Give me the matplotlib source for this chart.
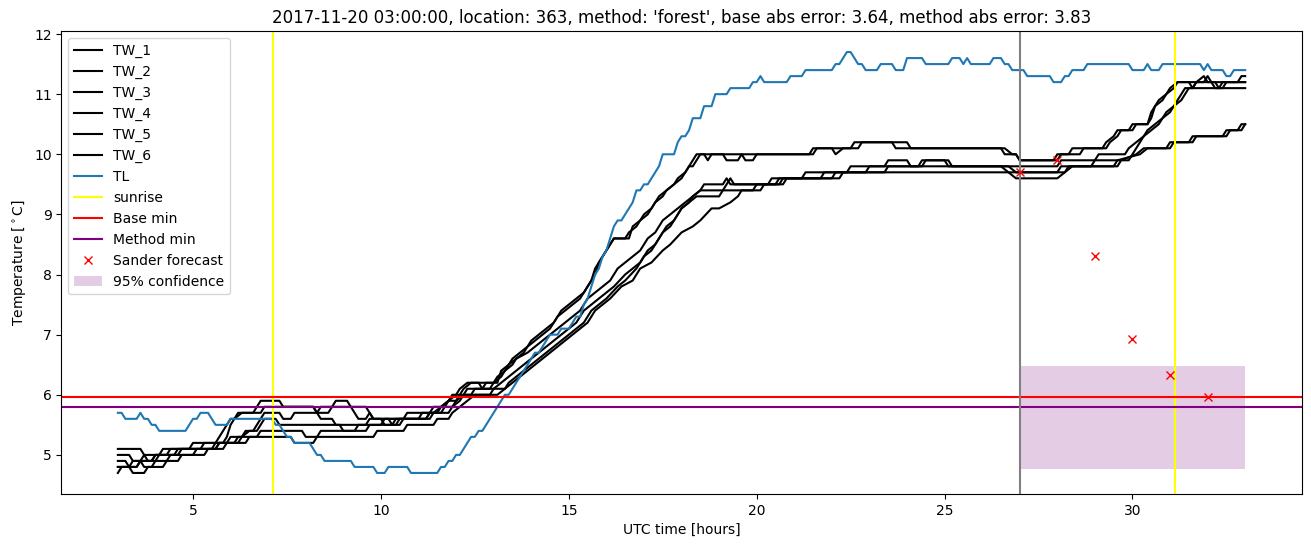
import matplotlib
matplotlib.use("Agg")
import matplotlib.pyplot as plt
import numpy as np

# ---------------- data ----------------
TL = [(3.0,5.7),(3.1,5.7),(3.2,5.6),(3.5,5.6),(3.6,5.7),(3.7,5.6),(3.8,5.6),(3.9,5.5),(4.0,5.5),(4.1,5.4),
      (4.8,5.4),(4.9,5.5),(5.0,5.6),(5.1,5.6),(5.2,5.7),(5.4,5.7),(5.5,5.6),(5.6,5.5),(5.9,5.5),(6.0,5.6),
      (7.0,5.6),(7.1,5.6),(7.2,5.5),(7.3,5.5),(7.4,5.4),(7.5,5.3),(7.6,5.3),(7.7,5.2),(8.1,5.2),(8.2,5.1),
      (8.3,5.0),(8.4,5.0),(8.5,4.9),(9.2,4.9),(9.3,4.8),(9.8,4.8),(9.9,4.7),(10.1,4.7),(10.2,4.8),(10.7,4.8),
      (10.8,4.7),(11.5,4.7),(11.6,4.8),(11.7,4.8),(11.8,4.9),(11.9,4.9),(12.0,5.0),(12.1,5.0),(12.2,5.1),
      (12.3,5.2),(12.4,5.3),(12.5,5.3),(12.6,5.4),(12.7,5.4),(12.8,5.5),(12.9,5.6),(13.0,5.7),(13.1,5.8),
      (13.2,5.9),(13.3,6.0),(13.4,6.0),(13.5,6.1),(13.6,6.2),(13.7,6.3),(13.8,6.4),(13.9,6.5),(14.0,6.6),
      (14.1,6.7),(14.2,6.7),(14.3,6.8),(14.4,6.9),(14.5,7.0),(14.7,7.0),(14.8,7.1),(15.0,7.1),(15.1,7.2),
      (15.2,7.3),(15.3,7.3),(15.4,7.5),(15.5,7.6),(15.6,7.8),(15.7,8.0),(15.8,8.1),(15.9,8.3),(16.0,8.4),
      (16.1,8.6),(16.2,8.8),(16.3,8.9),(16.4,8.9),(16.5,9.0),(16.6,9.1),(16.7,9.2),(16.8,9.4),(16.9,9.4),
      (17.0,9.5),(17.1,9.5),(17.2,9.6),(17.3,9.7),(17.4,9.8),(17.5,10.0),(17.8,10.0),(17.9,10.2),(18.0,10.3),
      (18.1,10.3),(18.2,10.4),(18.3,10.6),(18.5,10.6),(18.6,10.8),(18.8,10.8),(18.9,11.0),(19.2,11.0),
      (19.3,11.1),(19.8,11.1),(19.9,11.2),(20.0,11.2),(20.1,11.3),(20.2,11.2),(20.8,11.2),(20.9,11.3),
      (21.2,11.3),(21.3,11.4),(22.0,11.4),(22.1,11.5),(22.2,11.5),(22.4,11.7),(22.5,11.7),(22.7,11.5),
      (22.8,11.5),(22.9,11.4),(23.2,11.4),(23.3,11.5),(23.6,11.5),(23.7,11.4),(23.9,11.4),(24.0,11.6),
      (24.4,11.6),(24.5,11.5),(25.1,11.5),(25.2,11.6),(25.4,11.6),(25.5,11.5),(25.6,11.6),(25.7,11.5),
      (26.2,11.5),(26.3,11.6),(26.5,11.6),(26.6,11.5),(26.7,11.5),(26.8,11.4),(27.1,11.4),(27.2,11.3),
      (27.8,11.3),(27.9,11.2),(28.1,11.2),(28.2,11.3),(28.3,11.3),(28.4,11.4),(28.7,11.4),(28.8,11.5),
      (29.9,11.5),(30.0,11.4),(30.3,11.4),(30.4,11.5),(30.5,11.4),(30.7,11.4),(30.8,11.5),(31.8,11.5),
      (31.9,11.4),(32.0,11.5),(32.1,11.4),(32.4,11.4),(32.5,11.3),(32.6,11.3),(32.7,11.4),(33.0,11.4)]

TW_1 = [(3.0,5.0),(3.3,5.0),(3.4,4.9),(3.6,4.9),(3.7,5.0),(4.3,5.0),(4.4,5.1),(4.9,5.1),(5.0,5.2),(5.6,5.2),
        (5.7,5.3),(5.8,5.4),(5.9,5.5),(6.0,5.6),(6.1,5.6),(6.2,5.7),(6.6,5.7),(6.7,5.8),(6.8,5.9),(7.3,5.9),
        (7.4,5.8),(8.2,5.8),(8.3,5.7),(8.4,5.8),(8.7,5.8),(8.8,5.9),(9.1,5.9),(9.2,5.8),(9.4,5.6),(9.6,5.6),
        (9.7,5.7),(9.8,5.6),(10.6,5.6),(10.7,5.7),(11.3,5.7),(11.4,5.8),(11.7,5.8),(11.8,5.9),(11.9,6.0),
        (12.0,6.0),(12.1,6.1),(12.3,6.2),(13.0,6.2),(13.1,6.3),(13.3,6.4),(13.4,6.5),(13.6,6.6),(13.8,6.7),
        (13.9,6.8),(14.1,6.9),(14.3,7.0),(14.5,7.1),(14.7,7.3),(14.9,7.4),(15.1,7.5),(15.3,7.6),(15.5,7.8),
        (15.6,7.9),(15.7,8.1),(15.9,8.3),(16.0,8.4),(16.1,8.5),(16.2,8.6),(16.5,8.6),(16.6,8.7),(16.8,8.8),
        (16.9,8.9),(17.1,9.0),(17.3,9.2),(17.5,9.3),(17.6,9.4),(17.8,9.5),(18.0,9.6),(18.2,9.8),(18.3,9.8),
        (18.4,9.9),(18.5,10.0),(18.6,10.0),(18.7,9.9),(18.8,10.0),(19.6,10.0),(19.7,9.9),(19.9,9.9),
        (20.0,10.0),(21.5,10.0),(21.6,10.1),(22.5,10.1),(22.6,10.2),(24.0,10.2),(24.1,10.1),(26.6,10.1),
        (26.8,10.0),(26.9,10.0),(27.0,9.9),(28.0,9.9),(28.1,10.0),(28.3,10.0),(28.4,10.1),(29.2,10.1),
        (29.3,10.2),(29.5,10.3),(29.6,10.4),(29.9,10.4),(30.0,10.5),(30.4,10.5),(30.5,10.7),(30.6,10.8),
        (30.8,10.9),(30.9,11.0),(31.1,11.1),(31.2,11.2),(31.7,11.2),(31.9,11.3),(32.0,11.2),(32.2,11.2),
        (32.3,11.1),(32.4,11.2),(32.8,11.2),(32.9,11.3),(33.0,11.3)]

TW_2 = [(3.0,5.1),(3.6,5.1),(3.7,5.0),(3.8,4.9),(3.9,4.9),(4.0,5.0),(4.1,5.0),(4.2,5.1),(5.2,5.1),(5.3,5.2),
        (5.8,5.2),(5.9,5.3),(6.0,5.5),(6.1,5.6),(6.3,5.7),(6.8,5.7),(6.9,5.8),(8.2,5.8),(8.3,5.7),(8.6,5.7),
        (8.7,5.8),(9.6,5.8),(9.7,5.7),(9.8,5.6),(10.0,5.6),(10.1,5.5),(10.3,5.5),(10.4,5.6),(11.0,5.6),
        (11.1,5.7),(11.5,5.7),(11.6,5.8),(11.8,5.9),(12.0,6.0),(12.1,6.0),(12.2,6.1),(12.4,6.2),(12.6,6.2),
        (12.7,6.1),(12.8,6.2),(13.1,6.2),(13.2,6.4),(13.4,6.5),(13.5,6.6),(13.7,6.7),(13.9,6.8),(14.0,6.9),
        (14.2,7.0),(14.4,7.1),(14.6,7.2),(14.8,7.4),(15.0,7.5),(15.2,7.6),(15.4,7.7),(15.5,7.8),(15.7,8.0),
        (15.8,8.2),(16.0,8.4),(16.1,8.5),(16.2,8.6),(16.6,8.6),(16.7,8.8),(16.9,8.9),(17.0,9.0),(17.2,9.1),
        (17.4,9.3),(17.6,9.4),(17.8,9.5),(17.9,9.6),(18.1,9.7),(18.3,9.9),(18.4,10.0),(19.1,10.0),(19.2,9.9),
        (19.5,9.9),(19.6,10.0),(21.4,10.0),(21.5,10.1),(22.0,10.1),(22.1,10.0),(22.3,10.1),(22.7,10.1),
        (22.8,10.2),(23.6,10.2),(23.7,10.1),(26.5,10.1),(26.6,10.0),(26.9,10.0),(27.0,9.9),(27.9,9.9),
        (28.0,10.0),(28.6,10.0),(28.7,10.1),(29.3,10.1),(29.4,10.2),(29.6,10.3),(29.7,10.4),(30.0,10.4),
        (30.1,10.5),(30.4,10.5),(30.5,10.6),(30.6,10.8),(30.7,10.9),(30.9,11.0),(31.0,11.1),(31.2,11.2),
        (31.5,11.2),(31.6,11.1),(31.7,11.2),(33.0,11.2)]

TW_3 = [(3.0,4.9),(3.2,4.9),(3.3,4.8),(3.5,4.8),(3.6,4.9),(3.7,4.8),(3.9,4.8),(4.0,4.9),(4.3,4.9),(4.4,5.0),
        (5.0,5.0),(5.1,5.1),(5.6,5.1),(5.7,5.2),(6.2,5.2),(6.3,5.3),(6.5,5.4),(6.6,5.4),(6.7,5.5),(6.9,5.7),
        (7.3,5.7),(7.4,5.6),(7.6,5.6),(7.7,5.7),(8.3,5.7),(8.4,5.6),(8.7,5.6),(8.8,5.5),(9.6,5.5),(9.7,5.6),
        (10.2,5.6),(10.3,5.5),(10.5,5.5),(10.6,5.6),(11.2,5.6),(11.3,5.7),(11.6,5.7),(11.7,5.8),(11.9,5.8),
        (12.0,5.9),(12.2,6.0),(12.3,6.1),(12.9,6.1),(13.0,6.2),(13.2,6.3),(13.3,6.4),(13.5,6.5),(13.6,6.6),
        (13.9,6.7),(14.1,6.8),(14.3,6.9),(14.5,7.0),(14.7,7.1),(14.9,7.2),(15.1,7.3),(15.3,7.4),(15.5,7.6),
        (15.7,7.7),(15.9,7.8),(16.1,7.9),(16.3,8.1),(16.5,8.2),(16.7,8.3),(16.9,8.4),(17.1,8.6),(17.3,8.7),
        (17.5,8.9),(17.7,9.0),(17.9,9.1),(18.1,9.2),(18.3,9.3),(18.5,9.4),(19.1,9.4),(19.2,9.5),(19.3,9.6),
        (19.4,9.5),(20.3,9.5),(20.4,9.6),(21.2,9.6),(21.3,9.7),(22.4,9.7),(22.5,9.8),(23.4,9.8),(23.5,9.9),
        (24.0,9.9),(24.1,9.8),(24.3,9.8),(24.4,9.9),(25.1,9.9),(25.2,9.8),(26.6,9.8),(26.8,9.8),(28.0,9.8),
        (28.1,9.9),(29.0,9.9),(29.1,10.0),(29.8,10.0),(29.9,10.1),(30.1,10.2),(30.3,10.3),(30.4,10.4),
        (30.6,10.5),(30.8,10.6),(30.9,10.7),(31.1,10.8),(31.2,10.9),(31.3,11.0),(31.4,11.1),(31.6,11.1),
        (31.7,11.2),(31.9,11.2),(32.0,11.3),(32.1,11.2),(32.2,11.1),(32.4,11.1),(32.5,11.2),(33.0,11.2)]

TW_4 = [(3.0,4.8),(3.3,4.8),(3.4,4.7),(3.7,4.7),(3.8,4.8),(4.2,4.8),(4.3,4.9),(4.6,4.9),(4.7,5.0),(5.3,5.0),
        (5.4,5.1),(5.8,5.1),(5.9,5.2),(6.4,5.2),(6.5,5.3),(6.7,5.3),(6.8,5.4),(7.9,5.4),(8.0,5.3),(8.3,5.3),
        (8.4,5.4),(9.6,5.4),(9.7,5.5),(10.4,5.5),(10.5,5.6),(11.2,5.6),(11.3,5.7),(11.8,5.7),(11.9,5.8),
        (12.1,5.9),(12.2,6.0),(12.4,6.0),(12.5,6.1),(13.0,6.1),(13.2,6.2),(13.4,6.3),(13.6,6.4),(13.8,6.5),
        (14.0,6.6),(14.2,6.7),(14.4,6.8),(14.6,6.9),(14.8,7.0),(15.0,7.1),(15.2,7.2),(15.4,7.4),(15.6,7.5),
        (15.8,7.6),(16.0,7.7),(16.2,7.8),(16.5,8.0),(16.7,8.1),(16.9,8.2),(17.1,8.4),(17.3,8.5),(17.5,8.7),
        (17.7,8.8),(17.9,9.0),(18.0,9.1),(18.2,9.2),(18.3,9.3),(18.5,9.4),(18.6,9.5),(19.1,9.5),(19.2,9.6),
        (19.3,9.5),(20.5,9.5),(20.6,9.6),(21.7,9.6),(21.8,9.7),(22.9,9.7),(23.0,9.8),(24.4,9.8),(24.5,9.9),
        (25.0,9.9),(25.1,9.8),(26.7,9.8),(26.9,9.7),(28.2,9.7),(28.3,9.8),(28.9,9.8),(29.0,9.9),(29.9,9.9),
        (30.0,10.0),(30.2,10.2),(30.3,10.3),(30.5,10.4),(30.7,10.5),(30.8,10.6),(31.0,10.7),(31.1,10.8),
        (31.3,10.9),(31.4,11.0),(31.5,11.1),(33.0,11.1)]

TW_5 = [(3.0,4.8),(3.5,4.8),(3.6,4.9),(4.0,4.9),(4.1,5.0),(4.6,5.0),(4.7,5.1),(5.5,5.1),(5.6,5.2),(6.1,5.2),
        (6.2,5.3),(7.6,5.3),(7.7,5.2),(8.2,5.2),(8.3,5.3),(9.8,5.3),(9.9,5.4),(10.6,5.4),(10.7,5.5),(11.4,5.5),
        (11.5,5.6),(11.8,5.6),(11.9,5.7),(12.1,5.8),(12.3,5.9),(12.5,6.0),(12.9,6.0),(13.0,6.1),(13.3,6.1),
        (13.4,6.2),(13.6,6.3),(13.8,6.4),(14.0,6.5),(14.2,6.6),(14.4,6.7),(14.6,6.8),(14.8,6.9),(15.0,7.0),
        (15.2,7.1),(15.4,7.2),(15.6,7.4),(15.8,7.5),(16.0,7.6),(16.3,7.8),(16.5,7.9),(16.8,8.1),(17.0,8.3),
        (17.2,8.4),(17.4,8.6),(17.6,8.8),(17.8,8.9),(18.0,9.1),(18.2,9.2),(18.4,9.3),(19.0,9.3),(19.1,9.4),
        (19.9,9.4),(20.0,9.5),(20.7,9.5),(20.8,9.6),(22.2,9.6),(22.3,9.7),(23.4,9.7),(23.5,9.8),(26.5,9.8),
        (26.7,9.7),(28.0,9.7),(28.1,9.8),(29.6,9.8),(29.7,9.9),(30.1,10.0),(30.3,10.1),(30.9,10.1),
        (31.0,10.2),(31.5,10.2),(31.6,10.3),(32.4,10.3),(32.5,10.4),(32.9,10.4),(33.0,10.5)]

TW_6 = [(3.0,4.7),(3.1,4.8),(3.3,4.8),(3.4,4.9),(3.9,4.9),(4.0,5.0),(4.5,5.0),(4.6,5.1),(5.6,5.1),(5.7,5.2),
        (5.9,5.2),(6.0,5.3),(6.3,5.3),(6.4,5.4),(6.7,5.4),(6.8,5.5),(6.9,5.6),(7.2,5.6),(7.3,5.5),(8.9,5.5),
        (9.0,5.4),(9.3,5.4),(9.4,5.5),(10.0,5.5),(10.1,5.6),(11.3,5.6),(11.4,5.7),(11.6,5.8),(11.8,5.9),
        (12.0,5.9),(12.1,6.0),(13.1,6.0),(13.3,6.1),(13.5,6.2),(13.7,6.3),(13.9,6.4),(14.1,6.5),(14.3,6.6),
        (14.5,6.7),(14.7,6.8),(14.9,6.9),(15.1,7.0),(15.3,7.1),(15.5,7.2),(15.7,7.4),(15.9,7.5),(16.1,7.6),
        (16.4,7.8),(16.7,7.9),(16.9,8.1),(17.2,8.2),(17.5,8.4),(17.7,8.5),(18.0,8.7),(18.3,8.8),(18.5,8.9),
        (18.8,9.1),(19.0,9.1),(19.3,9.2),(19.5,9.3),(19.6,9.4),(20.1,9.4),(20.2,9.5),(20.6,9.5),(20.7,9.6),
        (22.0,9.6),(22.1,9.7),(25.6,9.7),(26.7,9.7),(26.9,9.6),(28.0,9.6),(28.2,9.7),(28.4,9.8),(29.5,9.8),
        (29.6,9.9),(30.2,10.0),(30.4,10.1),(31.0,10.1),(31.1,10.2),(31.6,10.2),(31.7,10.3),(32.5,10.3),
        (32.6,10.4),(32.8,10.4),(32.9,10.5),(33.0,10.5)]

tw_series = {"TW_1": TW_1, "TW_2": TW_2, "TW_3": TW_3, "TW_4": TW_4, "TW_5": TW_5, "TW_6": TW_6}

sunrise_hours = [7.12, 31.12]
forecast_start = 27.0
base_min = 5.97
method_min = 5.79
sander_hours = [27, 28, 29, 30, 31, 32]
sander_values = [9.70, 9.90, 8.31, 6.93, 6.33, 5.97]
conf_hours = [27.0, 33.0]
conf_low = 4.77
conf_high = 6.48

title = ("2017-11-20 03:00:00, location: 363, method: 'forest', "
         "base abs error: 3.64, method abs error: 3.83")

# ---------------- plot ----------------
fig = plt.figure(figsize=(13.11, 5.47), dpi=100)
ax = fig.add_axes([0.0469, 0.0969, 0.9459, 0.8464])

for name, pts in tw_series.items():
    arr = np.array(pts)
    ax.plot(arr[:, 0], arr[:, 1], color="black", label=name)

tl = np.array(TL)
ax.plot(tl[:, 0], tl[:, 1], color="#1f77b4", label="TL")

ax.axvline(sunrise_hours[0], color="yellow", label="sunrise")
ax.axvline(sunrise_hours[1], color="yellow")
ax.axhline(base_min, color="red", label="Base min")
ax.axhline(method_min, color="purple", label="Method min")
ax.axvline(forecast_start, color="gray")
ax.plot(sander_hours, sander_values, "x", color="red", linestyle="none", label="Sander forecast")
ax.fill_between(conf_hours, [conf_low] * 2, [conf_high] * 2, color="purple", alpha=0.2,
                linewidth=0, label="95% confidence")

ax.set_xlim(1.5, 34.5)
ax.set_ylim(4.35, 12.05)
ax.set_xlabel("UTC time [hours]")
ax.set_ylabel("Temperature [$^\\circ$C]")
ax.set_title(title)
ax.legend(loc="upper left")

fig.savefig("out.png", dpi=100)
